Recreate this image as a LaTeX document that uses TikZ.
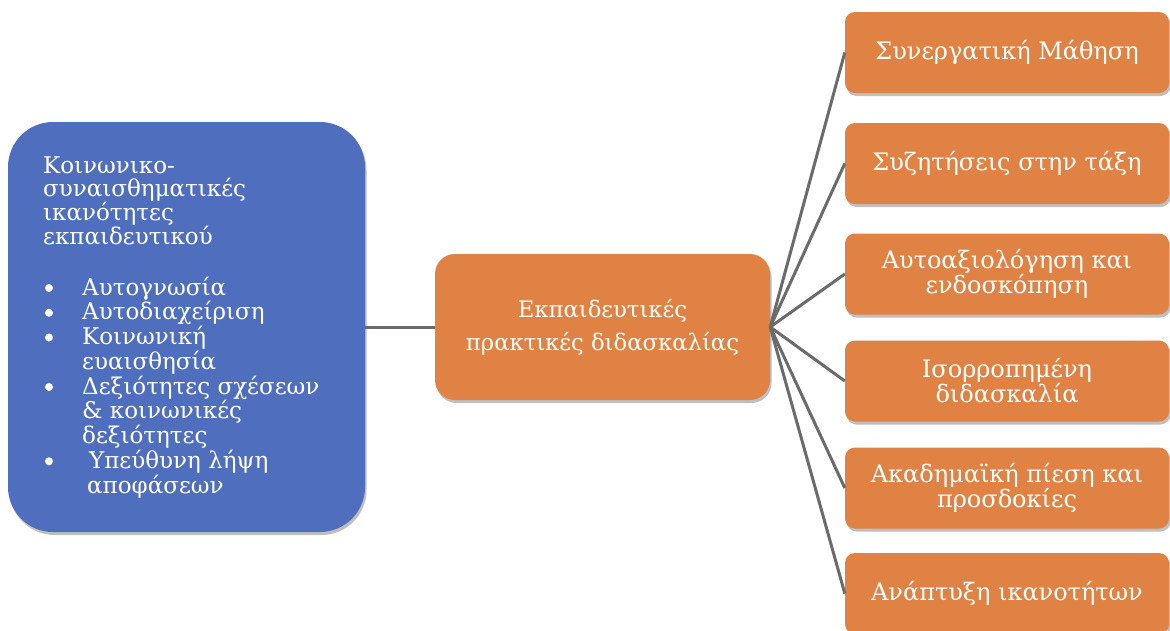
\documentclass[tikz,border=0pt]{standalone}
\usepackage{fontspec}
\setmainfont{DejaVu Serif}
\usetikzlibrary{shadows}
\definecolor{bluebox}{HTML}{4F6FBE}
\definecolor{orangebox}{HTML}{DF8244}
\definecolor{linegray}{HTML}{6B6B6B}
\begin{document}
\begin{tikzpicture}[x=1pt,y=-1pt,
  boxshadow/.style={drop shadow={shadow xshift=1.5pt, shadow yshift=-3pt, opacity=0.25, fill=black}},
  bluestyle/.style={fill=bluebox, draw=none, rounded corners=45pt, minimum width=357pt, minimum height=410pt, inner sep=0pt, boxshadow},
  censtyle/.style={fill=orangebox, draw=none, rounded corners=20pt, minimum width=335pt, minimum height=146pt, inner sep=0pt, boxshadow, text=white, align=center, font=\fontsize{22.7}{33}\selectfont},
  rstyle/.style={fill=orangebox, draw=none, rounded corners=10pt, minimum width=324pt, minimum height=81pt, inner sep=0pt, boxshadow, text=white, align=center, font=\fontsize{24}{25}\selectfont},
  conn/.style={draw=linegray, line width=3pt},
  wtext/.style={text=white, inner sep=0pt, anchor=base west},
  bul/.style={circle, fill=white, minimum size=8pt, inner sep=0pt}
]
\useasboundingbox (0,0) rectangle (1170,630);
\clip (0,0) rectangle (1170,630);
\fill[white] (0,0) rectangle (1170,630);

% nodes
\node[bluestyle] (left) at (186.5,327) {};
\node[censtyle] (cen) at (602.5,327) {Εκπαιδευτικές\\πρακτικές διδασκαλίας};
\node[rstyle] (r1) at (1007,52.5) {Συνεργατική Μάθηση};
\node[rstyle] (r2) at (1007,163.5) {Συζητήσεις στην τάξη};
\node[rstyle] (r3) at (1007,274) {Αυτοαξιολόγηση και\\ενδοσκόπηση};
\node[rstyle] (r4) at (1007,381) {Ισορροπημένη\\διδασκαλία};
\node[rstyle] (r5) at (1007,488) {Ακαδημαϊκή πίεση και\\προσδοκίες};
\node[rstyle] (r6) at (1007,593.5) {Ανάπτυξη ικανοτήτων};

% texts of the left box
\node[wtext] (head) at (43,173) {\parbox[t]{310pt}{\fontsize{23}{23}\selectfont\raggedright
Κοινωνικο-\\συναισθηματικές\\ικανότητες\\εκπαιδευτικού}};
\node[wtext] (items) at (82,295) {\parbox[t]{275pt}{\fontsize{23}{24.75}\selectfont\raggedright
Αυτογνωσία\\Αυτοδιαχείριση\\Κοινωνική\\ευαισθησία\\Δεξιότητες σχέσεων\\\& κοινωνικές\\δεξιότητες\\\hspace*{7pt}Υπεύθυνη λήψη\\\hspace*{5pt}αποφάσεων}};
\foreach \yy/\nm in {288/b1,312.75/b2,337.5/b3,387/b4,461.25/b5}
  \node[bul] (\nm) at (49,\yy) {};

% connectors
\draw[conn] (left.east) -- (cen.west);
\foreach \r in {r1,r2,r3,r4,r5,r6}
  \draw[conn] (cen.east) -- (\r.west);
\end{tikzpicture}
\end{document}
